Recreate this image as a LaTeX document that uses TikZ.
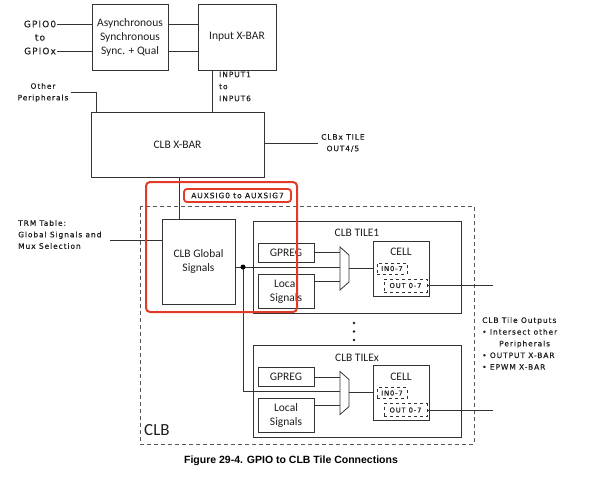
\documentclass[tikz,border=0pt]{standalone}
\usepackage{fontspec}
\setmainfont{Carlito}
\newfontfamily\lblfont[LetterSpace=12,FakeBold=0.5]{DejaVu Sans}
\newfontfamily\capfont{Liberation Sans}
\definecolor{linegray}{HTML}{333333}
\definecolor{textgray}{HTML}{1E1E1E}
\definecolor{dashgray}{HTML}{595959}
\definecolor{boxred}{HTML}{E23A26}

\begin{document}
\begin{tikzpicture}[x=1pt,y=-1pt,
    blk/.style={draw=linegray,line width=0.9pt,inner sep=0pt,align=center,text=textgray,font=\fontsize{11.5}{14}\selectfont},
    lbl/.style={inner sep=0pt,align=left,text=textgray,font=\lblfont\fontsize{7.5}{11.5}\selectfont},
    biglbl/.style={lbl,font=\lblfont\fontsize{9}{11}\selectfont},
    pin/.style={draw=linegray,dashed,line width=0.8pt,inner sep=0pt,text=textgray,font=\lblfont\fontsize{6.8}{8}\selectfont},
    wire/.style={draw=linegray,line width=0.8pt}]
  \useasboundingbox (0,0) rectangle (591,480);
  \draw
    (40,24) node[biglbl] (gpio0) {GPIO0}
    (40,37.5) node[biglbl] (gpioto) {to}
    (40,51) node[biglbl] (gpiox) {GPIOx};
  \draw
    (130,37) node[blk,minimum width=76,minimum height=66] (async) {Asynchronous\\Synchronous\\Sync. + Qual}
    (237,37) node[blk,minimum width=78,minimum height=66] (inxbar) {Input X-BAR}
    (177.5,144.5) node[blk,minimum width=173,minimum height=65] (clbxbar) {CLB X-BAR}
    (198.5,261.5) node[blk,minimum width=73,minimum height=85] (global) {CLB Global\\Signals};
  \draw
    (43,92.5) node[lbl,align=center] (other) {Other\\Peripherals}
    (219,71.5) node[lbl,anchor=north west,font=\lblfont\fontsize{7.5}{12}\selectfont] (inputs) {INPUT1\\to\\INPUT6}
    (321,143) node[lbl,anchor=west,align=center] (clbxout) {CLBx TILE\\OUT4/5}
    (18,234.5) node[lbl,anchor=west] (trm) {TRM Table:\\Global Signals and\\Mux Selection}
    (482,317) node[lbl,anchor=north west,font=\lblfont\fontsize{7.5}{11.7}\selectfont] (tileouts)
      {CLB Tile Outputs\\\textbullet\ Intersect other\\\hspace*{17pt}Peripherals\\\textbullet\ OUTPUT X-BAR\\\textbullet\ EPWM X-BAR};
  \coordinate (trmtap) at (110,240);
  \coordinate (junc) at (243,267);

  \draw[dashgray,line width=0.8pt,dash pattern=on 4pt off 3pt] (140,206) rectangle (474,444);
  \node[anchor=west,inner sep=0pt,text=textgray,font=\fontsize{17}{17}\selectfont] (clblbl) at (144,430) {CLB};

  \begin{scope}
    \node[blk,minimum width=208,minimum height=92,
      label={[anchor=north,yshift=-5pt,text=textgray,font=\fontsize{11.5}{14}\selectfont]north:CLB TILE1}] (tile1) at (357,267) {};
    \node[blk,minimum width=56,minimum height=19] (gpreg1) at (286,252.5) {GPREG};
    \node[blk,minimum width=56,minimum height=34] (local1) at (286,291) {Local\\Signals};
    \node[blk,minimum width=56,minimum height=55,
      label={[anchor=north,yshift=-4pt,text=textgray,font=\fontsize{11.5}{14}\selectfont]north:CELL}] (cell1) at (401,268.5) {};
    \node[pin,minimum width=30,minimum height=11] (in1) at (392,268.5) {IN0-7};
    \node[pin,minimum width=43,minimum height=13] (out1) at (405.5,285.5) {OUT 0-7};
    \draw[wire,fill=white] (340,247) -- (349,255) -- (349,282) -- (340,290) -- cycle;
    \coordinate (m1g) at (340,252.5);
    \coordinate (m1c) at (340,267);
    \coordinate (m1l) at (340,281);
    \coordinate (m1o) at (349,268);
    \coordinate (tout1) at (493,285.5);
    \draw[wire]
      (gpreg1.east) -- (m1g)
      (local1.east |- m1l) -- (m1l)
      (m1o) -- (m1o -| cell1.west)
      (out1.east) -- (tout1);
  \end{scope}

  \begin{scope}[shift={(0,124.5)}]
    \node[blk,minimum width=208,minimum height=92,
      label={[anchor=north,yshift=-5pt,text=textgray,font=\fontsize{11.5}{14}\selectfont]north:CLB TILEx}] (tilex) at (357,267) {};
    \node[blk,minimum width=56,minimum height=19] (gpregx) at (286,252.5) {GPREG};
    \node[blk,minimum width=56,minimum height=34] (localx) at (286,291) {Local\\Signals};
    \node[blk,minimum width=56,minimum height=55,
      label={[anchor=north,yshift=-4pt,text=textgray,font=\fontsize{11.5}{14}\selectfont]north:CELL}] (cellx) at (401,268.5) {};
    \node[pin,minimum width=30,minimum height=11] (inx) at (392,268.5) {IN0-7};
    \node[pin,minimum width=43,minimum height=13] (outx) at (405.5,285.5) {OUT 0-7};
    \draw[wire,fill=white] (340,247) -- (349,255) -- (349,282) -- (340,290) -- cycle;
    \coordinate (mxg) at (340,252.5);
    \coordinate (mxc) at (340,267);
    \coordinate (mxl) at (340,281);
    \coordinate (mxo) at (349,268);
    \coordinate (toutx) at (493,285.5);
    \draw[wire]
      (gpregx.east) -- (mxg)
      (localx.east |- mxl) -- (mxl)
      (mxo) -- (mxo -| cellx.west)
      (outx.east) -- (toutx);
  \end{scope}

  \fill[textgray] (354,323) circle (1.3pt) (354,331.5) circle (1.3pt) (354,340) circle (1.3pt);

  \draw[wire]
    ([xshift=1pt]gpio0.east) -- (gpio0.east -| async.west)
    ([xshift=1pt]gpiox.east) -- (gpiox.east -| async.west)
    (async.east |- gpio0) -- (inxbar.west |- gpio0)
    (async.east |- gpiox) -- (inxbar.west |- gpiox)
    ([xshift=-25pt]inxbar.south) -- ([xshift=-25pt]inxbar.south |- clbxbar.north)
    ([xshift=2pt]other.east) -| ([xshift=6pt]clbxbar.north west)
    (clbxbar.east |- clbxout) -- ([xshift=-3pt]clbxout.west)
    ([xshift=1.5pt]clbxbar.south) -- ([xshift=1.5pt]clbxbar.south |- global.north)
    (trmtap) -- (trmtap -| global.west)
    (junc -| global.east) -- (m1c)
    (junc) |- (mxc);
  \fill[black] (junc) circle (2.5pt);

  \draw[boxred,line width=2pt,rounded corners=4pt] (146,182) rectangle (297,312);
  \node[lbl,draw=boxred,line width=1.8pt,rounded corners=3pt,minimum width=107,minimum height=13,align=center] (auxsig) at (237.5,195.5) {AUXSIG0 to AUXSIG7};

  \node[text=black,font=\capfont\bfseries\fontsize{10.5}{12}\selectfont] (caption) at (291,461) {Figure 29-4. GPIO to CLB Tile Connections};
\end{tikzpicture}
\end{document}
